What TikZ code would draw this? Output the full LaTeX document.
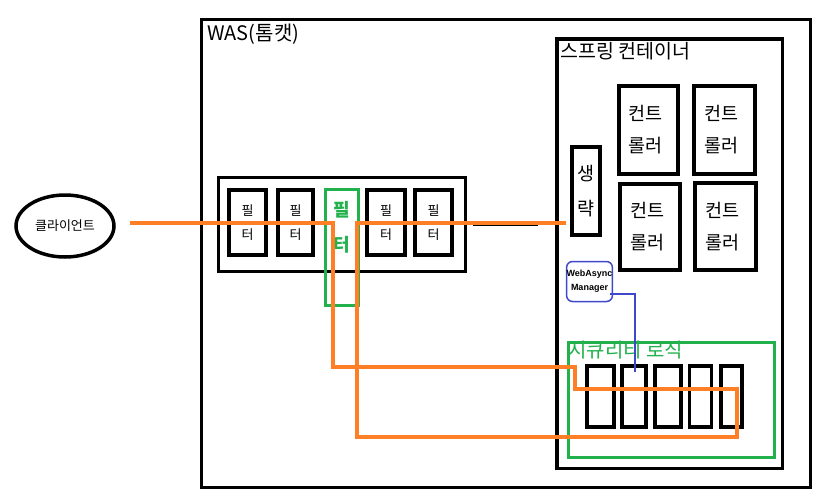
\documentclass[tikz,border=0pt]{standalone}
\usepackage{fontspec}
\usetikzlibrary{shapes.geometric}
\setmainfont{Noto Sans CJK KR}
\newfontfamily\latfont{Liberation Sans}
\definecolor{porange}{HTML}{FF7F27}
\definecolor{pgreen}{HTML}{22B14C}
\definecolor{pblue}{HTML}{3F48CC}
\tikzset{
  box/.style={draw=black, rectangle, inner sep=0pt, outer sep=0pt},
  ctrlbox/.style={box, line width=4pt, align=left, font=\fontsize{18.5}{32}\selectfont},
  filterbox/.style={box, line width=4pt, align=center, font=\fontsize{13}{24}\selectfont},
  secbox/.style={box, line width=3.5pt},
  lbl/.style={anchor=north west, inner sep=0pt},
  olink/.style={draw=porange, line width=4pt},
  blink/.style={draw=black, line width=2pt},
}
\begin{document}
\begin{tikzpicture}[x=1pt,y=-1pt]
\useasboundingbox (0,0) rectangle (827,493);
% WAS
\node[box, line width=3pt, minimum width=609pt, minimum height=468pt] (was) at (506,253.5) {};
\node[lbl, font=\fontsize{20}{22}\selectfont] (wasl) at (207,24) {WAS(톰캣)};
% Spring container
\node[box, line width=3.5pt, minimum width=225.5pt, minimum height=429.5pt] (spring) at (669.5,253.5) {};
\node[lbl, font=\fontsize{19.5}{21}\selectfont] (springl) at (560,42) {스프링 컨테이너};
% controllers
\node[ctrlbox, minimum width=59pt, minimum height=88pt, text width=40pt] (c1) at (648.5,130) {컨트\\롤러};
\node[ctrlbox, minimum width=61pt, minimum height=88pt, text width=40pt] (c2) at (724.5,130) {컨트\\롤러};
\node[ctrlbox, minimum width=60pt, minimum height=86pt, text width=40pt] (c3) at (650,227) {컨트\\롤러};
\node[ctrlbox, minimum width=61pt, minimum height=87pt, text width=40pt] (c4) at (725.5,226.5) {컨트\\롤러};
% omitted
\node[box, line width=4pt, minimum width=28pt, minimum height=88pt, align=center, font=\fontsize{18.5}{35}\selectfont] (omit) at (586,191) {생\\략};
% WebAsyncManager
\node[box, draw=pblue, line width=1.5pt, rounded corners=6pt, minimum width=40pt, minimum height=40pt, align=center, font=\latfont\bfseries\fontsize{9}{14}\selectfont] (wam) at (589.5,281.5) {WebAsync\\Manager};
% security
\node[box, draw=pgreen, line width=3pt, minimum width=206pt, minimum height=115pt] (sec) at (671.5,400) {};
\node[lbl, text=pgreen, font=\fontsize{20}{22}\selectfont] (secl) at (568,341) {시큐리티 로직};
\node[secbox, minimum width=27pt, minimum height=61pt] (s1) at (600.5,396.5) {};
\node[secbox, minimum width=24pt, minimum height=61pt] (s2) at (634,396.5) {};
\node[secbox, minimum width=26pt, minimum height=61pt] (s3) at (668,396.5) {};
\node[secbox, minimum width=22pt, minimum height=61pt] (s4) at (700.5,396.5) {};
\node[secbox, minimum width=21pt, minimum height=61pt] (s5) at (731.5,396.5) {};
% filters
\node[box, line width=3pt, minimum width=247pt, minimum height=94pt] (fchain) at (342,224.5) {};
\node[filterbox, minimum width=37pt, minimum height=65pt] (f1) at (247.5,222.5) {필\\터};
\node[filterbox, minimum width=35pt, minimum height=65pt] (f2) at (295.5,222.5) {필\\터};
\node[filterbox, minimum width=38pt, minimum height=65pt] (f4) at (386,222.5) {필\\터};
\node[filterbox, minimum width=37pt, minimum height=65pt] (f5) at (433.5,222.5) {필\\터};
\node[box, draw=pgreen, line width=3pt, minimum width=33pt, minimum height=116pt] (f3) at (342,247.5) {};
\node[inner sep=0pt, align=center, text=pgreen, font=\bfseries\fontsize{18}{35}\selectfont] (f3t) at (342,227.5) {필\\터};
% client
\node[draw, ellipse, line width=3.5pt, minimum width=98pt, minimum height=62pt, inner sep=0pt, font=\fontsize{13}{15}\selectfont] (client) at (65,226) {클라이언트};
% connection points
\coordinate (la) at (130,224);
\coordinate (lb) at (185,224);
\coordinate (lc) at (473,225);
\coordinate (ld) at (538,225);
\draw[blink] (la) -- (lb);
\draw[blink] (lc) -- (ld);
% orange request path
\coordinate (o0) at (130,223);
\coordinate (o1) at (333,223);
\coordinate (o2) at (333,367);
\coordinate (o3) at (575,367);
\coordinate (o4) at (575,389);
\coordinate (o5) at (737,389);
\coordinate (o6) at (737,437);
\coordinate (o7) at (357,437);
\coordinate (o8) at (357,223);
\coordinate (o9) at (566,223);
\draw[olink] (o0) -- (o1) -- (o2) -- (o3) -- (o4) -- (o5) -- (o6) -- (o7) -- (o8) -- (o9);
% blue link
\coordinate (b0) at (610,294);
\coordinate (b1) at (635,294);
\coordinate (b2) at (635,372);
\draw[draw=pblue, line width=1.5pt] (b0) -- (b1) -- (b2);
\end{tikzpicture}
\end{document}
